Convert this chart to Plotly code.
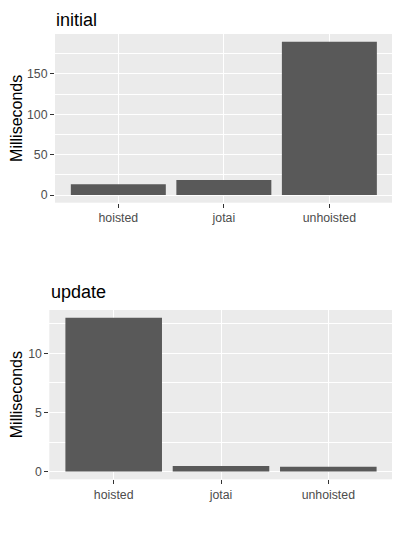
import plotly.graph_objects as go

categories = ["hoisted", "jotai", "unhoisted"]
initial_ms = [13.5, 18.5, 190]
update_ms = [13.0, 0.48, 0.40]

# page body has an 8px margin; figure occupies the rest of the 400x550 window
OFF = 8
W, H = 400 - OFF, 550 - OFF
BAR = "#595959"
PANEL = "#EBEBEB"
FONT = "Liberation Sans, Arial, sans-serif"

def px_x(a, b):
    return [(a - OFF) / W, (b - OFF) / W]

def px_y(top, bottom):
    return [1 - (bottom - OFF) / H, 1 - (top - OFF) / H]

def yrange(vals):
    m = max(vals)
    return [-0.05 * m, 1.05 * m]

fig = go.Figure()
fig.add_trace(go.Bar(x=categories, y=initial_ms, marker=dict(color=BAR, line=dict(width=0)),
                     width=0.9, xaxis="x", yaxis="y", showlegend=False))
fig.add_trace(go.Bar(x=categories, y=update_ms, marker=dict(color=BAR, line=dict(width=0)),
                     width=0.9, xaxis="x2", yaxis="y2", showlegend=False))

common_x = dict(type="category", range=[-0.6, 2.6], showgrid=True, gridcolor="white", gridwidth=1.3,
                ticks="outside", ticklen=4, tickcolor="#333333", tickwidth=1,
                tickfont=dict(family=FONT, size=12.3, color="#4D4D4D"), showline=False, zeroline=False,
                fixedrange=True)
common_y = dict(showgrid=True, gridcolor="white", gridwidth=1.3, zeroline=False, showline=False,
                ticks="outside", ticklen=4, tickcolor="#333333", tickwidth=1,
                tickfont=dict(family=FONT, size=12.3, color="#4D4D4D"),
                title=dict(text="Milliseconds", font=dict(family=FONT, size=16, color="black"), standoff=5))

fig.update_layout(
    width=W, height=H, margin=dict(l=0, r=0, t=0, b=0),
    paper_bgcolor="white", plot_bgcolor=PANEL, bargap=0.1,
    xaxis=dict(domain=px_x(55, 392.7), anchor="y", **common_x),
    yaxis=dict(domain=px_y(34, 202.7), anchor="x", range=yrange(initial_ms), tickvals=[0, 50, 100, 150],
               minor=dict(tickvals=[25, 75, 125, 175], showgrid=True, gridcolor="white", gridwidth=0.6, ticks=""),
               **common_y),
    xaxis2=dict(domain=px_x(49.3, 392.7), anchor="y2", **common_x),
    yaxis2=dict(domain=px_y(310, 479.3), anchor="x2", range=yrange(update_ms), tickvals=[0, 5, 10],
                minor=dict(tickvals=[2.5, 7.5, 12.5], showgrid=True, gridcolor="white", gridwidth=0.6, ticks=""),
                **common_y),
    annotations=[
        dict(text="initial", x=(54 - OFF) / W, y=1.0, xref="paper", yref="paper", xanchor="left",
             yanchor="top", showarrow=False, font=dict(family=FONT, size=18, color="black")),
        dict(text="update", x=(48.5 - OFF) / W, y=1 - (292 - OFF) / H, xref="paper", yref="paper", xanchor="left",
             yanchor="middle", showarrow=False, font=dict(family=FONT, size=18, color="black")),
    ],
)

fig.write_html("out.html")
